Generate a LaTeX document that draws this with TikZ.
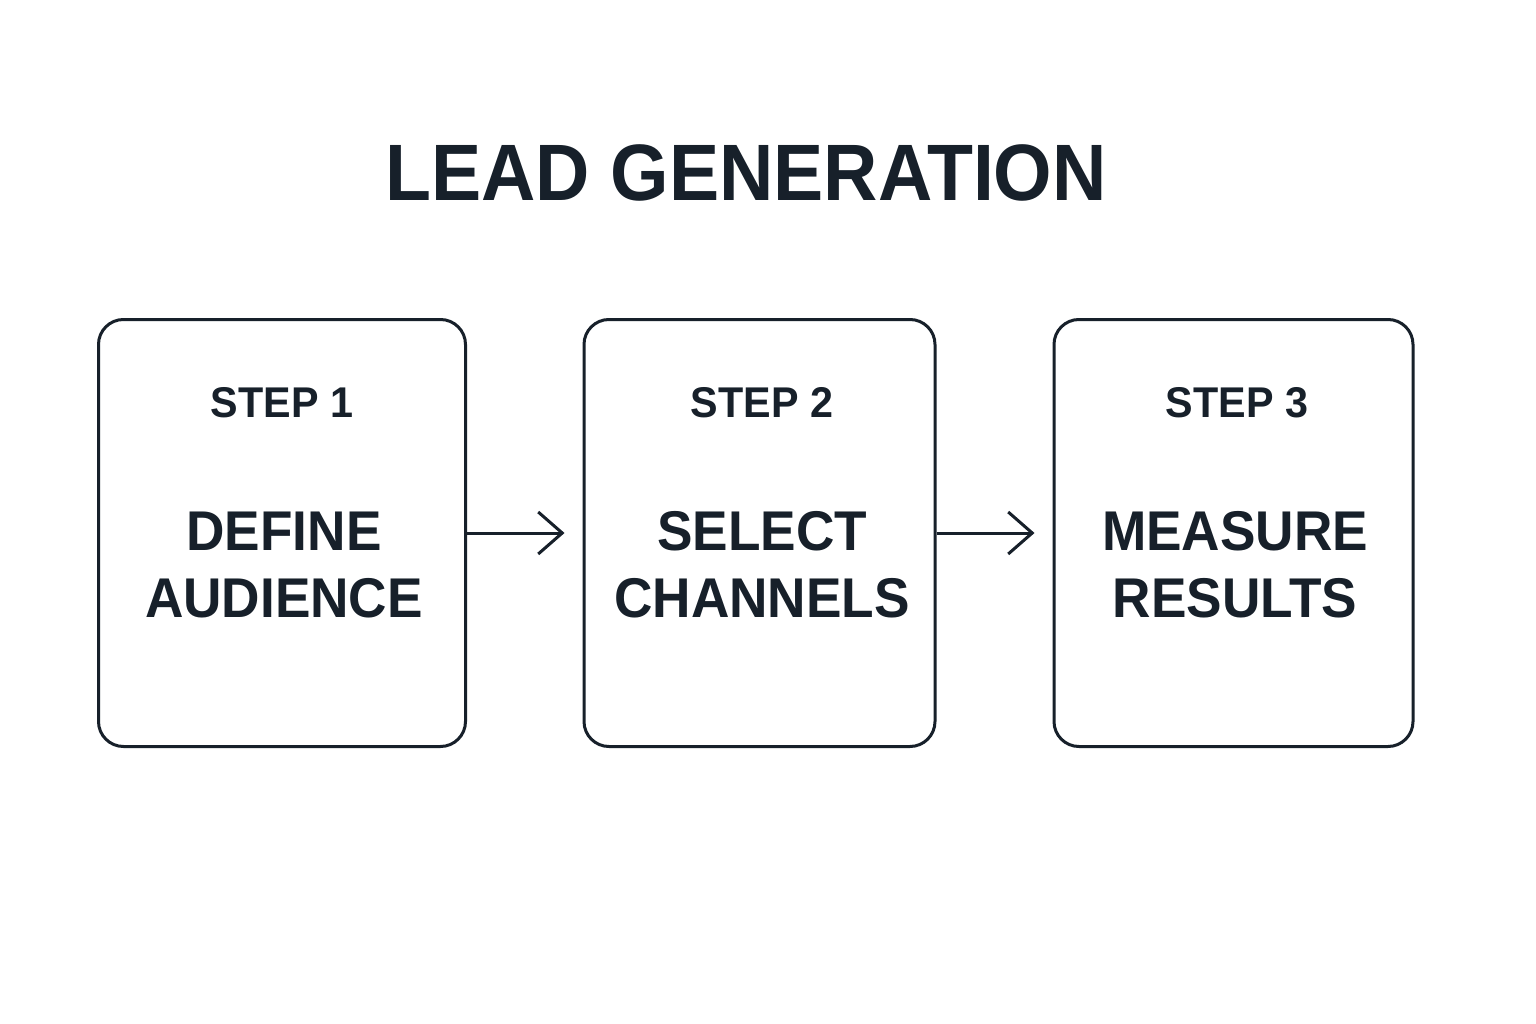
\documentclass[tikz,border=0pt]{standalone}
\usepackage{fontspec}
\setmainfont{Liberation Sans}
\usetikzlibrary{arrows.meta}
\definecolor{ink}{HTML}{17202A}
\begin{document}
\begin{tikzpicture}[x=1pt,y=-1pt,
  stepbox/.style={draw=ink,line width=3pt,rounded corners=25pt,minimum width=367pt,minimum height=427pt,inner sep=0pt},
  steplabel/.style={anchor=base,text=ink,font=\bfseries\fontsize{43}{43}\selectfont,inner sep=0pt},
  mainlabel/.style={anchor=base,text=ink,font=\bfseries\fontsize{56}{56}\selectfont,inner sep=0pt},
  arr/.style={draw=ink,line width=3pt,-{Straight Barb[length=24pt,width=42pt,line width=3pt]},shorten >=18pt}]
\useasboundingbox[fill=white] (0,0) rectangle (1536,1024);
\node[anchor=base,text=ink,font=\bfseries\fontsize{80}{80}\selectfont,inner sep=0pt] (title) at (746,201) {\scalebox{0.94}[1]{LEAD GENERATION}};
\node[stepbox] (b1) at (282,533) {};
\node[stepbox,minimum width=351pt] (b2) at (759.5,533) {};
\node[stepbox,minimum width=359pt] (b3) at (1233.5,533) {};
\node[steplabel] (s1) at (282,417) {\scalebox{0.96}[1]{STEP 1}};
\node[steplabel] (s2) at (762,417) {\scalebox{0.96}[1]{STEP 2}};
\node[steplabel] (s3) at (1237,417) {\scalebox{0.96}[1]{STEP 3}};
\node[mainlabel] (m1a) at (284,550) {\scalebox{0.95}[1]{DEFINE}};
\node[mainlabel] (m1b) at (284,617) {\scalebox{0.95}[1]{AUDIENCE}};
\node[mainlabel] (m2a) at (762,550) {\scalebox{0.95}[1]{SELECT}};
\node[mainlabel] (m2b) at (762,617) {\scalebox{0.95}[1]{CHANNELS}};
\node[mainlabel] (m3a) at (1235,550) {\scalebox{0.95}[1]{MEASURE}};
\node[mainlabel] (m3b) at (1235,617) {\scalebox{0.95}[1]{RESULTS}};
\draw[arr] (b1.east) -- (b2.west);
\draw[arr] (b2.east) -- (b3.west);
\end{tikzpicture}
\end{document}
